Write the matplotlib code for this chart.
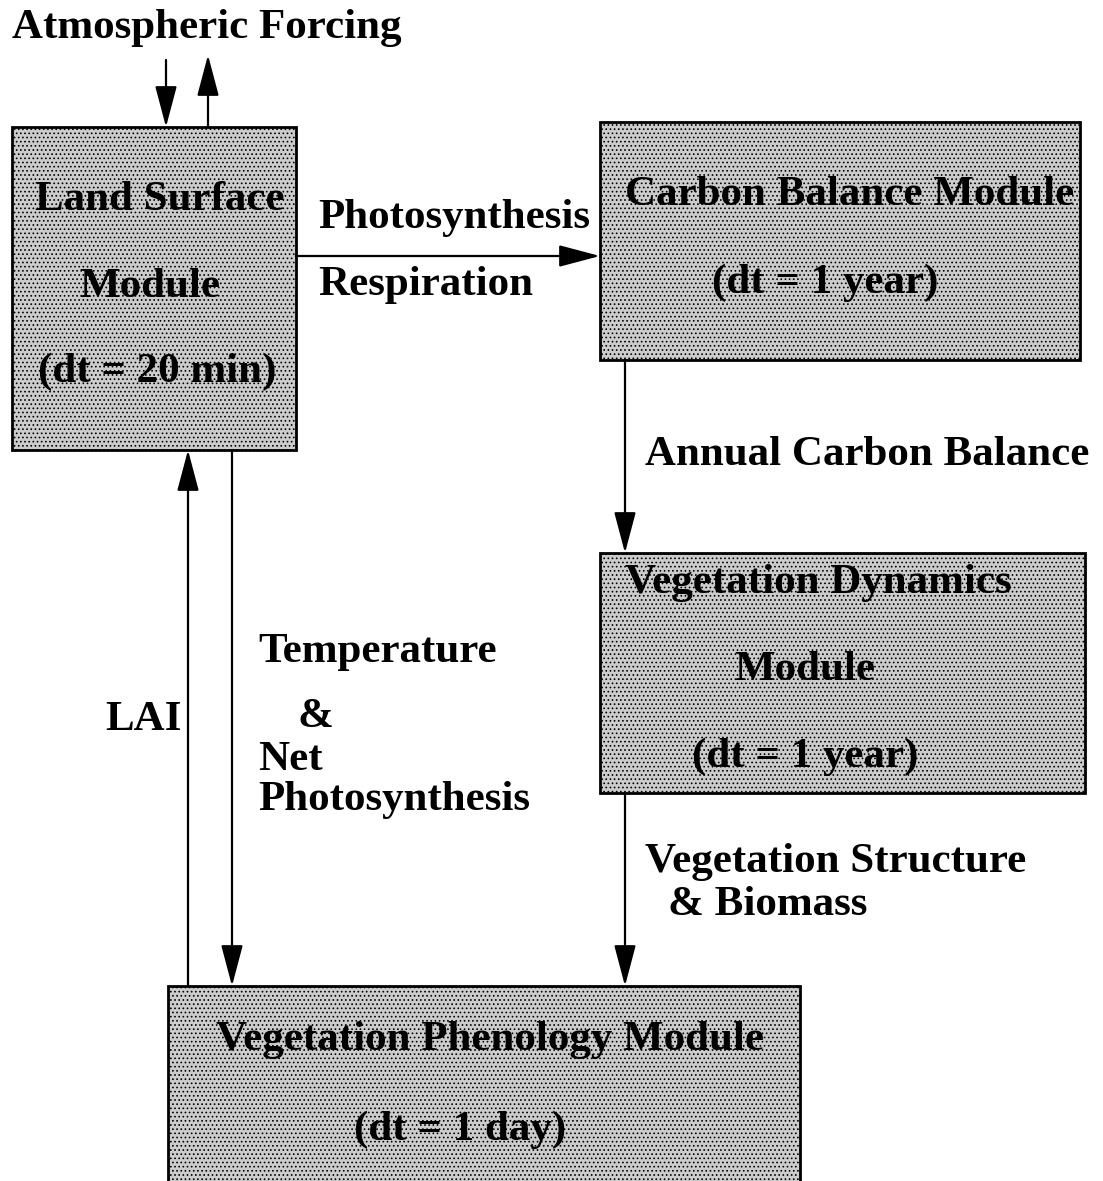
import matplotlib
matplotlib.use("Agg")
import matplotlib.pyplot as plt
from matplotlib.patches import Rectangle, FancyArrowPatch

plt.rcParams['font.family'] = ['Liberation Serif', 'DejaVu Serif']
plt.rcParams['hatch.color'] = '#4a4a4a'
plt.rcParams['hatch.linewidth'] = 0.7

W, H = 1103, 1181

# boxes: (left, top, right, bottom) in pixel coords
box_names = ['land', 'carbon', 'dynamics', 'phenology']
box_extents = [(12, 127, 296, 450), (600, 122, 1080, 360),
               (600, 553, 1085, 793), (168, 986, 800, 1185)]

# box labels: text, x, y, horizontal alignment
box_texts = [
    ('Land Surface', 160, 200, 'center'),
    ('Module', 150, 287, 'center'),
    ('(dt = 20 min)', 157, 372, 'center'),
    ('Carbon Balance Module', 850, 195, 'center'),
    ('(dt = 1 year)', 825, 283, 'center'),
    ('Vegetation Dynamics', 625, 583, 'left'),
    ('Module', 805, 670, 'center'),
    ('(dt = 1 year)', 805, 757, 'center'),
    ('Vegetation Phenology Module', 490, 1040, 'center'),
    ('(dt = 1 day)', 460, 1130, 'center'),
]

# flow labels
flow_texts = [
    ('Atmospheric Forcing', 12, 28, 'left'),
    ('Photosynthesis', 318, 218, 'left'),
    ('Respiration', 318, 285, 'left'),
    ('Annual Carbon Balance', 645, 455, 'left'),
    ('Temperature', 258, 652, 'left'),
    ('&', 298, 717, 'left'),
    ('Net', 258, 760, 'left'),
    ('Photosynthesis', 258, 800, 'left'),
    ('LAI', 105, 720, 'left'),
    ('Vegetation Structure', 645, 862, 'left'),
    ('& Biomass', 668, 905, 'left'),
]

# arrows: start (x, y) -> end (x, y)
arrows = [
    ((166, 60), (166, 127)),
    ((208, 127), (208, 55)),
    ((296, 256), (600, 256)),
    ((625, 360), (625, 553)),
    ((625, 793), (625, 986)),
    ((188, 986), (188, 450)),
    ((232, 450), (232, 986)),
]

fig = plt.figure(figsize=(W / 100, H / 100), dpi=100)
ax = fig.add_axes([0, 0, 1, 1])
ax.set_xlim(0, W)
ax.set_ylim(H, 0)
ax.axis('off')

for (l, t, r, b) in box_extents:
    ax.add_patch(Rectangle((l, t), r - l, b - t, facecolor='#cccccc',
                           edgecolor='black', linewidth=2.0, hatch='....'))

for txt, x, y, ha in box_texts + flow_texts:
    ax.text(x, y, txt, ha=ha, va='center', fontsize=31, fontweight='bold',
            color='black')

for (x0, y0), (x1, y1) in arrows:
    ax.add_patch(FancyArrowPatch((x0, y0), (x1, y1),
                                 arrowstyle='-|>,head_length=1.7,head_width=0.45',
                                 mutation_scale=15, color='black', linewidth=1.6,
                                 shrinkA=0, shrinkB=0))

fig.savefig('out.png', dpi=100)
